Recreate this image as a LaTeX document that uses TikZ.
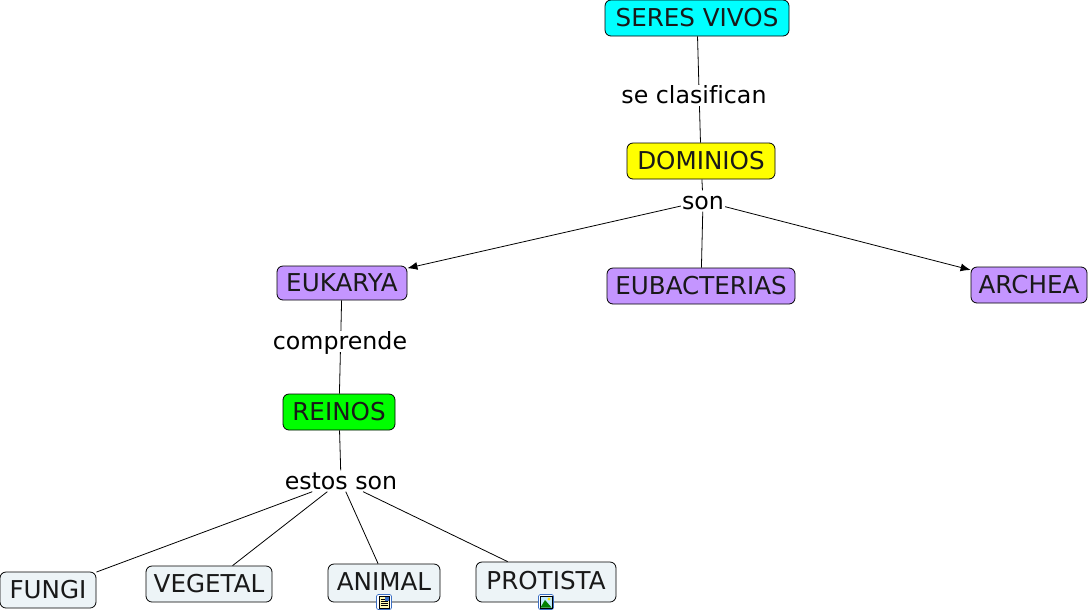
\documentclass[tikz,border=0pt]{standalone}
\usepackage{fontspec}
\setmainfont[Ligatures=NoCommon]{DejaVu Sans}
\usetikzlibrary{arrows.meta}
\definecolor{cyanbox}{HTML}{00FFFF}
\definecolor{yellowbox}{HTML}{FFFF00}
\definecolor{purplebox}{HTML}{C495FF}
\definecolor{greenbox}{HTML}{00FF00}
\definecolor{palebox}{HTML}{EDF4F7}
\definecolor{iconblue}{HTML}{3B6FC4}
\tikzset{
  x=1pt,y=-1pt,
  concept/.style={draw=black,line width=0.8pt,rounded corners=6pt,inner sep=0pt,anchor=center,font=\fontsize{24.6}{28}\selectfont,text=black!90},
  raisedtext/.style={text height=18pt,text depth=4pt},
  linker/.style={inner sep=1pt,fill=white,minimum height=21pt,text height=18pt,text depth=1pt,font=\fontsize{23.7}{26}\selectfont,anchor=center},
  conn/.style={draw=black,line width=0.8pt},
  arr/.style={conn,-{Latex[length=10pt,width=8pt]}},
  iconbox/.style={draw=iconblue,fill=white,line width=0.7pt,rounded corners=2pt,minimum size=15pt,inner sep=0pt}
}
\begin{document}
\begin{tikzpicture}
\useasboundingbox (0,0) rectangle (1089,614);
\node[concept,fill=cyanbox,minimum width=184pt,minimum height=36pt] (seres) at (697,18) {SERES VIVOS};
\node[concept,fill=yellowbox,minimum width=148pt,minimum height=36pt] (dom) at (701,161) {DOMINIOS};
\node[concept,fill=purplebox,minimum width=130pt,minimum height=34pt] (euk) at (342,283) {EUKARYA};
\node[concept,fill=purplebox,minimum width=188pt,minimum height=36pt] (eub) at (701,286) {EUBACTERIAS};
\node[concept,fill=purplebox,minimum width=116pt,minimum height=36pt] (arc) at (1029,285) {ARCHEA};
\node[concept,fill=greenbox,minimum width=112pt,minimum height=36pt] (rei) at (339,412) {REINOS};
\node[concept,fill=palebox,minimum width=96pt,minimum height=36pt] (fun) at (48,590) {FUNGI};
\node[concept,fill=palebox,minimum width=126pt,minimum height=36pt] (veg) at (209,584) {VEGETAL};
\node[concept,raisedtext,fill=palebox,minimum width=112pt,minimum height=38pt] (ani) at (384,583) {ANIMAL};
\node[concept,raisedtext,fill=palebox,minimum width=140pt,minimum height=40pt] (pro) at (546,582) {PROTISTA};
\draw[conn] (seres) -- (dom);
\draw[conn] (euk) -- (rei);
\node[linker] (lclas) at (694,95) {se clasifican};
\node[linker] (lson) at (703,201) {son};
\node[linker] (lcomp) at (340,341) {comprende};
\node[linker] (lest) at (341,481) {estos son};
\draw[conn] (dom) -- (lson);
\draw[arr] (lson) -- (euk);
\draw[conn] (lson) -- (eub);
\draw[arr] (lson) -- (arc);
\draw[conn] (rei) -- (lest);
\draw[conn] (lest) -- (fun);
\draw[conn] (lest) -- (veg);
\draw[conn] (lest) -- (ani.107);
\draw[conn] (lest) -- (pro.152);
% attachment icons
\node[iconbox] (icona) at (384,602) {};
\fill[yellow!30] (379,596) rectangle (389,608);
\draw[black,line width=0.5pt] (379,596) rectangle (389,608);
\foreach \yy in {599,601,603,605} \draw[black,line width=0.6pt] (380.5,\yy) -- (387.5,\yy);
\fill[iconblue] (384.5,597) rectangle (388.5,600.5);
\node[iconbox] (iconp) at (546,602) {};
\fill[cyan!25] (540,596) rectangle (552,608);
\draw[black,line width=0.5pt] (540,596) rectangle (552,608);
\fill[green!50!black] (540.3,607.7) -- (545,600) -- (551.7,607.7) -- cycle;
\fill[yellow!80!orange] (549,599) circle (1.6);
\end{tikzpicture}
\end{document}
